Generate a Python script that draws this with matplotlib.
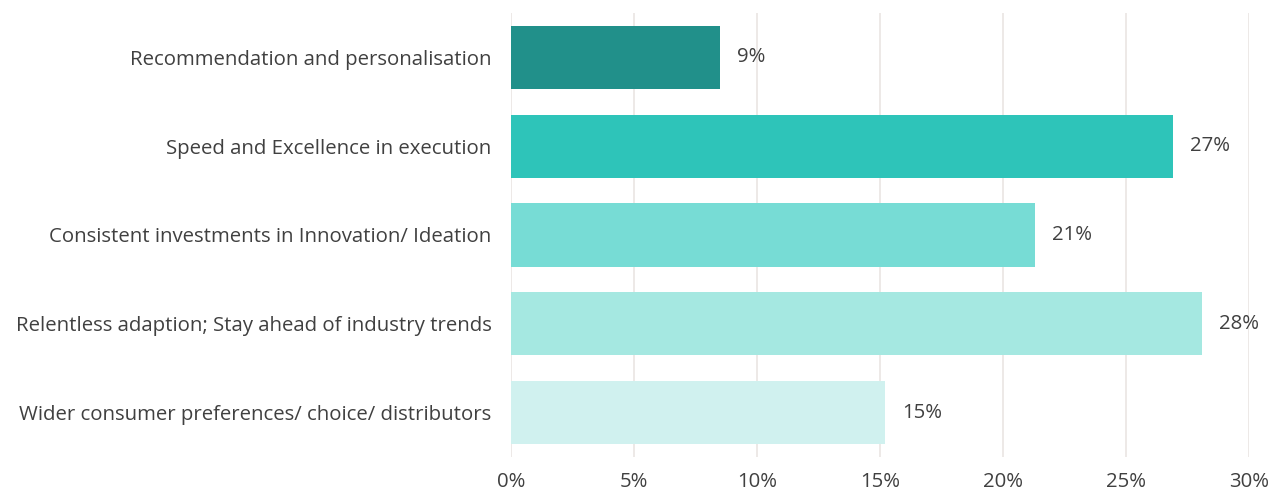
import numpy as np
import matplotlib
matplotlib.use("Agg")
import matplotlib.pyplot as plt

####################################################
### Data

categories = [
    "Recommendation and personalisation",
    "Speed and Excellence in execution",
    "Consistent investments in Innovation/ Ideation",
    "Relentless adaption; Stay ahead of industry trends",
    "Wider consumer preferences/ choice/ distributors",
]
values = [8.5, 26.9, 21.3, 28.1, 15.2]
value_labels = ["9%", "27%", "21%", "28%", "15%"]
bar_colors = ["#21908a", "#2ec4b9", "#77dcd5", "#a5e8e1", "#d0f1ef"]
x_ticks = [0, 5, 10, 15, 20, 25, 30]

####################################################
### Plot

plt.rcParams['font.family'] = ['Open Sans', 'DejaVu Sans']
text_color = "#404040"
fsize = 14.7

fig = plt.figure(figsize=(12.77, 4.95), dpi=100)
ax = fig.add_axes([511/1277, 1 - 457/495, (1249 - 511)/1277, 444/495])

ypos = np.arange(len(categories))
ax.barh(ypos, values, height=0.71, color=bar_colors, zorder=2)

for y, v, lab in zip(ypos, values, value_labels):
    ax.text(v + 0.7, y, lab, va='center', ha='left', fontsize=fsize, color=text_color)

ax.set_xlim(0, 30)
ax.set_ylim(len(categories) - 0.5, -0.5)
ax.set_yticks(ypos)
ax.set_yticklabels(categories, fontsize=fsize, color=text_color)
ax.set_xticks(x_ticks)
ax.set_xticklabels(["%d%%" % t for t in x_ticks], fontsize=fsize, color=text_color)
ax.tick_params(axis='both', length=0)
ax.tick_params(axis='y', pad=14)
ax.tick_params(axis='x', pad=11)

for s in ax.spines.values():
    s.set_visible(False)
ax.grid(axis='x', color='#ece7e5', linewidth=1.3, zorder=0)
ax.set_axisbelow(True)

fig.savefig("out.png", dpi=100)
